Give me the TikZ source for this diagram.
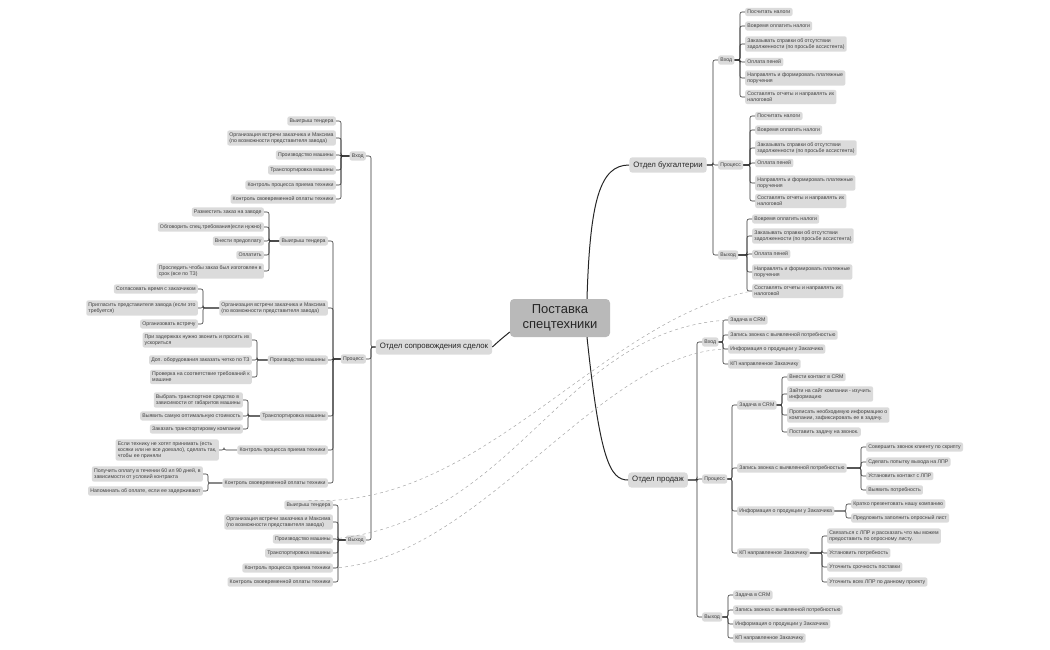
\documentclass[tikz,border=0pt]{standalone}
\usepackage{fontspec}
\setmainfont{Liberation Sans}
\usetikzlibrary{calc}

\tikzset{
  leaf/.style={fill=gray!28, rounded corners=2pt, inner sep=2.2pt, align=left,
    font=\fontsize{5.2}{6}\selectfont, text=black!75},
  dept/.style={fill=gray!28, rounded corners=3pt, inner sep=4pt,
    font=\fontsize{7.8}{9}\selectfont, text=black!85},
  root/.style={fill=gray!55, rounded corners=4pt, minimum width=100pt, minimum height=38pt,
    align=center, font=\fontsize{13}{15}\selectfont, text=black!85},
  link/.style={draw=black!80, line width=0.6pt, rounded corners=2pt},
  big/.style={draw=black!85, line width=1pt},
  cross/.style={draw=gray!70, dashed, line width=0.5pt},
}

% ветки вправо / влево
\newcommand{\leavesR}[4]{%
  \foreach \y/\t [count=\i] in {#4} {
    \node[leaf, anchor=west] (#2\i) at (#3,\y) {\t};
    \draw[link] (#1.east) -| ([xshift=-5pt]#2\i.west) -- (#2\i.west);
  }}
\newcommand{\leavesL}[4]{%
  \foreach \y/\t [count=\i] in {#4} {
    \node[leaf, anchor=east] (#2\i) at (#3,\y) {\t};
    \draw[link] (#1.west) -| ([xshift=5pt]#2\i.east) -- (#2\i.east);
  }}

\begin{document}
\begin{tikzpicture}[x=1pt, y=-1pt]
  \useasboundingbox (0,0) rectangle (1050,650);

  % центр
  \node[root] (root) at (560,318) {Поставка\\спецтехники};

  % отделы
  \node[dept] (sop) at (434,347) {Отдел сопровождения сделок};
  \node[dept] (buh) at (668,165) {Отдел бухгалтерии};
  \node[dept] (prod) at (658,480) {Отдел продаж};

  \draw[big] (root.west) ++(0,14) .. controls (500,340) .. (sop.east);
  \draw[big] ([xshift=27pt]root.north) .. controls (590,200) and (600,165) .. (buh.west);
  \draw[big] ([xshift=27pt]root.south) .. controls (600,460) and (610,480) .. (prod.west);

  % ===== Отдел сопровождения сделок =====
  \leavesL{sop}{s}{366}{156/Вход, 359/Процесс, 540/Выход}

  % Вход
  \leavesL{s1}{sv}{336}{121/Выигрыш тендера,
    138/{Организация встречи заказчика и Максима\\(по возможности представителя завода)},
    155/Производство машины, 170/Транспортировка машины,
    185/Контроль процесса приема техники, 199/Контроль своевременной оплаты техники}

  % Процесс
  \leavesL{s2}{sp}{328}{241/Выигрыш тендера,
    308/{Организация встречи заказчика и Максима\\(по возможности представителя завода)},
    360/Производство машины, 416/Транспортировка машины,
    450/Контроль процесса приема техники, 483/Контроль своевременной оплаты техники}

  \leavesL{sp1}{spa}{264}{212/Разместить заказ на заводе,
    227/Обговорить спец.требования(если нужно), 241/Внести предоплату, 255/Оплатить,
    271/{Проследить чтобы заказ был изготовлен в\\срок (все по ТЗ)}}
  \leavesL{sp2}{spb}{198}{289/Согласовать время с заказчиком,
    308/{Пригласить представителя завода (если это\\требуется)}, 324/Организовать встречу}
  \leavesL{sp3}{spc}{252}{340/{При задержках нужно звонить и просить их\\ускориться},
    360/Доп. оборудования заказать четко по ТЗ,
    377/{Проверка на соответствие требований к\\машине}}
  \leavesL{sp4}{spd}{243}{400/{Выбрать транспортное средство в\\зависимости от габаритов машины},
    416/Выявить самую оптимальную стоимость, 429/Заказать транспортировку компании}
  \leavesL{sp5}{spe}{219}{450/{Если технику не хотят принимать (есть\\косяки или не все доехало), сделать так,\\чтобы ее приняли}}
  \leavesL{sp6}{spf}{203}{474/{Получить оплату в течении 60 ил 90 дней, в\\зависимости от условий контракта},
    491/{Напоминать об оплате, если ее задерживают}}

  % Выход
  \leavesL{s3}{sx}{333}{505/Выигрыш тендера,
    522/{Организация встречи заказчика и Максима\\(по возможности представителя завода)},
    539/Производство машины, 553/Транспортировка машины,
    568/Контроль процесса приема техники, 582/Контроль своевременной оплаты техники}

  % ===== Отдел бухгалтерии =====
  \leavesR{buh}{b}{718}{60/Вход, 165/Процесс, 255/Выход}
  \leavesR{b1}{bv}{745}{12/Посчитать налоги, 26/Вовремя оплатить налоги,
    44/{Заказывать справки об отсутствии\\задолженности (по просьбе ассистента)},
    62/Оплата пеней, 78/{Направлять и формировать платежные\\поручения},
    97/{Составлять отчеты и направлять их\\налоговой}}
  \leavesR{b2}{bp}{755}{116/Посчитать налоги, 130/Вовремя оплатить налоги,
    148/{Заказывать справки об отсутствии\\задолженности (по просьбе ассистента)},
    163/Оплата пеней, 183/{Направлять и формировать платежные\\поручения},
    201/{Составлять отчеты и направлять их\\налоговой}}
  \leavesR{b3}{bx}{752}{219/Вовремя оплатить налоги,
    236/{Заказывать справки об отсутствии\\задолженности (по просьбе ассистента)},
    254/Оплата пеней, 272/{Направлять и формировать платежные\\поручения},
    291/{Составлять отчеты и направлять их\\налоговой}}

  % ===== Отдел продаж =====
  \leavesR{prod}{p}{702}{342/Вход, 479/Процесс, 617/Выход}
  \leavesR{p1}{pv}{728}{320/Задача в CRM, 335/Запись звонка с выявленной потребностью,
    349/Информация о продукции у Заказчика, 364/КП направленное Заказчику}
  \leavesR{p2}{pp}{737}{405/Задача в CRM, 468/Запись звонка с выявленной потребностью,
    511/Информация о продукции у Заказчика, 553/КП направленное Заказчику}
  \leavesR{pp1}{ppa}{787}{377/Внести контакт в CRM,
    394/{Зайти на сайт компании - изучить\\информацию},
    415/{Прописать необходимую информацию о\\компании, зафиксировать ее в задачу.},
    432/Поставить задачу на звонок.}
  \leavesR{pp2}{ppb}{866}{447/Совершить звонок клиенту по скрипту,
    462/Сделать попытку выхода на ЛПР, 476/Установить контакт с ЛПР, 490/Выявить потребность}
  \leavesR{pp3}{ppc}{851}{504/Кратко презентовать нашу компанию,
    518/Предложить заполнить опросный лист}
  \leavesR{pp4}{ppd}{827}{536/{Связаться с ЛПР и рассказать что мы можем\\предоставить по опросному листу.},
    553/Установить потребность, 567/Уточнить срочность поставки,
    582/Уточнить всех ЛПР по данному проекту}
  \leavesR{p3}{px}{733}{595/Задача в CRM, 610/Запись звонка с выявленной потребностью,
    624/Информация о продукции у Заказчика, 638/КП направленное Заказчику}

  % пунктирные связи
  \draw[cross] (sx1.north) .. controls (480,510) and (600,320) .. (bx5.west);
  \draw[cross] (sx3.east) .. controls (520,520) and (560,330) .. (pv1.west);
  \draw[cross] (sx5.east) .. controls (480,560) and (600,350) .. (pv3.west);
\end{tikzpicture}
\end{document}
